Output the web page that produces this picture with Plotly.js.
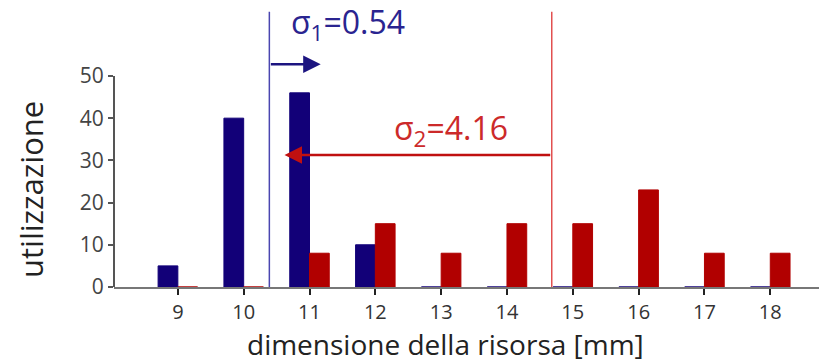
<!DOCTYPE html>
<html>
<head>
<meta charset="utf-8">
<script src="https://cdn.plot.ly/plotly-3.0.1.min.js"></script>
<style>html,body{margin:0;padding:0;background:#fff;}#chart{width:819px;height:362px;}</style>
</head>
<body>
<div id="chart"></div>
<script>
const categories = [9, 10, 11, 12, 13, 14, 15, 16, 17, 18];
const tickLabels = ["9", "10", "11", "12", "13", "14", "15", "16", "17", "18"];
const series1 = [5, 40, 46, 10, 0, 0, 0, 0, 0, 0];
const series2 = [0, 0, 8, 15, 8, 15, 15, 23, 8, 8];
const yTicks = [0, 10, 20, 30, 40, 50];
const sigma1Line = 10.39;
const sigma2Line = 14.68;
const sigma1ArrowEnd = 11.17;
const sigma2ArrowEnd = 10.62;
const sigma1Label = "σ<sub>1</sub>=0.54";
const sigma2Label = "σ<sub>2</sub>=4.16";

const blue = "#120078";
const red = "#b10000";
const font = "Open Sans, DejaVu Sans, sans-serif";

const traces = [
  {type: "bar", x: categories, y: series1, marker: {color: blue, line: {color: blue, width: 1}}, hoverinfo: "none"},
  {type: "bar", x: categories, y: series2, marker: {color: red, line: {color: red, width: 1}}, hoverinfo: "none"}
];

const layout = {
  width: 819, height: 362,
  margin: {l: 114, r: 0, t: 8, b: 75},
  paper_bgcolor: "#fff", plot_bgcolor: "#fff",
  showlegend: false,
  barmode: "group", bargap: 0.4, bargroupgap: 0,
  font: {family: font, color: "#333"},
  xaxis: {
    range: [8.03, 18.74],
    tickvals: categories, ticktext: tickLabels,
    showgrid: false, zeroline: false,
    showline: true, linecolor: "#777", linewidth: 2,
    ticks: "outside", ticklen: 6, tickwidth: 2, tickcolor: "#222",
    tickfont: {size: 20, color: "#333", family: font}
  },
  yaxis: {
    range: [0, 66.1],
    tickvals: yTicks,
    showgrid: false, zeroline: false, showline: false,
    ticks: "outside", ticklen: 5, tickwidth: 2, tickcolor: "#555",
    tickfont: {size: 21, color: "#444", family: font}
  },
  shapes: [
    {type: "line", xref: "paper", yref: "y", x0: 0, x1: 0, y0: 0, y1: 50, line: {color: "#555", width: 2}},
    {type: "line", xref: "x", yref: "y", x0: sigma1Line, x1: sigma1Line, y0: 0, y1: 65.2, line: {color: "#4a46b0", width: 1.5}},
    {type: "line", xref: "x", yref: "y", x0: sigma2Line, x1: sigma2Line, y0: 0, y1: 65.2, line: {color: "#e25050", width: 1.5}}
  ],
  annotations: [
    {xref: "x", yref: "y", axref: "x", ayref: "y", x: sigma1ArrowEnd, y: 52.8, ax: sigma1Line, ay: 52.8,
     text: "", showarrow: true, arrowhead: 2, arrowsize: 1.4, arrowwidth: 2.5, arrowcolor: "#1c1480"},
    {xref: "x", yref: "y", axref: "x", ayref: "y", x: sigma2ArrowEnd, y: 31.3, ax: sigma2Line, ay: 31.3,
     text: "", showarrow: true, arrowhead: 2, arrowsize: 1.4, arrowwidth: 2.5, arrowcolor: "#c01010"},
    {xref: "paper", yref: "paper", x: 289, y: 24, text: sigma1Label, showarrow: false,
     font: {size: 32, color: "#2a2490", family: font}, xanchor: "left", yanchor: "middle"},
    {xref: "paper", yref: "paper", x: 392, y: 130, text: sigma2Label, showarrow: false,
     font: {size: 32, color: "#cc2a2a", family: font}, xanchor: "left", yanchor: "middle"},
    {xref: "paper", yref: "paper", x: 445, y: 344, text: "dimensione della risorsa [mm]", showarrow: false,
     font: {size: 28, color: "#222", family: font}, xanchor: "center", yanchor: "middle"},
    {xref: "paper", yref: "paper", x: 31, y: 190, text: "utilizzazione", showarrow: false, textangle: -90,
     font: {size: 31, color: "#222", family: font}, xanchor: "center", yanchor: "middle"}
  ]
};

// convert pixel positions for text annotations into paper coordinates
const plotW = 819 - 114 - 0, plotH = 362 - 8 - 75;
layout.annotations.forEach(a => {
  if (a.xref === "paper" && a.x > 1.5) {
    a.x = (a.x - 114) / plotW;
    a.y = (362 - 75 - a.y) / plotH;
  }
});

Plotly.newPlot("chart", traces, layout, {displayModeBar: false, staticPlot: true});
</script>
</body>
</html>
